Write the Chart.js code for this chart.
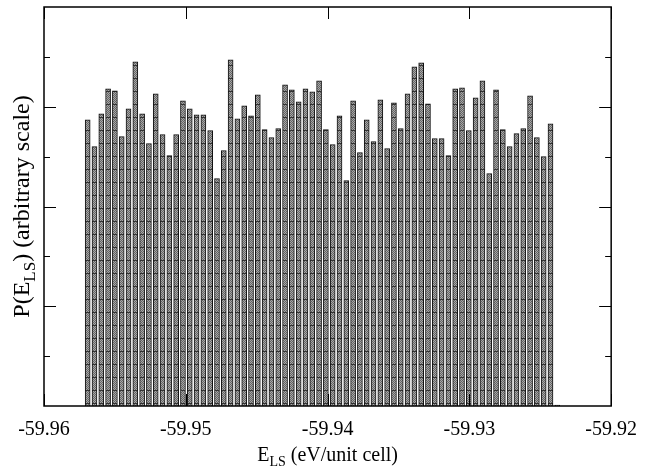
<!DOCTYPE html>
<html>
<head>
<meta charset="utf-8">
<script src="https://cdn.jsdelivr.net/npm/chart.js@4.4.0/dist/chart.umd.min.js"></script>
<style>
  html, body { margin: 0; padding: 0; background: #fff; }
  #wrap { width: 649px; height: 472px; }
</style>
</head>
<body>
<div id="wrap"><canvas id="myChart" width="649" height="472"></canvas></div>
<script>
// bin centres (eV/unit cell)
const binCenters = [
  -59.95692, -59.95644, -59.95596, -59.95548, -59.95500, -59.95452, -59.95404, -59.95356,
  -59.95308, -59.95260, -59.95212, -59.95164, -59.95116, -59.95068, -59.95020, -59.94972,
  -59.94924, -59.94876, -59.94828, -59.94780, -59.94732, -59.94684, -59.94636, -59.94588,
  -59.94540, -59.94492, -59.94444, -59.94396, -59.94348, -59.94300, -59.94252, -59.94204,
  -59.94156, -59.94108, -59.94060, -59.94012, -59.93964, -59.93916, -59.93868, -59.93820,
  -59.93772, -59.93724, -59.93676, -59.93628, -59.93580, -59.93532, -59.93484, -59.93436,
  -59.93388, -59.93340, -59.93292, -59.93244, -59.93196, -59.93148, -59.93100, -59.93052,
  -59.93004, -59.92956, -59.92908, -59.92860, -59.92812, -59.92764, -59.92716, -59.92668,
  -59.92620, -59.92572, -59.92524, -59.92476, -59.92428, -59.92380
];

// P(E_LS), arbitrary scale
const counts = [
  2.87, 2.60, 2.93, 3.18, 3.16, 2.70, 2.98, 3.45, 2.93, 2.63,
  3.13, 2.72, 2.51, 2.72, 3.06, 2.98, 2.92, 2.92, 2.76, 2.28,
  2.56, 3.47, 2.88, 3.01, 2.91, 3.12, 2.77, 2.69, 2.78, 3.22,
  3.17, 3.05, 3.18, 3.15, 3.26, 2.77, 2.62, 2.91, 2.26, 3.06,
  2.54, 2.87, 2.65, 3.07, 2.58, 3.04, 2.78, 3.13, 3.40, 3.44,
  3.03, 2.68, 2.68, 2.51, 3.18, 3.19, 2.76, 3.09, 3.26, 2.33,
  3.17, 2.77, 2.60, 2.73, 2.78, 3.11, 2.69, 2.50, 2.83, 0.01
];

const xMin = -59.96, xMax = -59.92, xStep = 0.01;
const yMax = 4;
const yMajor = [1, 2, 3];
const yMinor = [0.5, 1.5, 2.5, 3.5];

const ctx = document.getElementById('myChart').getContext('2d');

// checkered grey fill with a dark line every few pixels, like the printed hatching
function makePattern() {
  const c = document.createElement('canvas');
  c.width = 2; c.height = 13;
  const p = c.getContext('2d');
  for (let r = 0; r < 13; r++) {
    for (let k = 0; k < 2; k++) {
      if (r === 0) p.fillStyle = '#333';
      else p.fillStyle = ((r + k) % 2) ? '#646464' : '#a8a8a8';
      p.fillRect(k, r, 1, 1);
    }
  }
  return ctx.createPattern(c, 'repeat');
}

const SERIF = '"Liberation Serif", "DejaVu Serif", serif';

function drawSubText(c, x, y, parts, size) {
  // parts: [text, isSub], centred on x
  const big = size + 'px ' + SERIF, small = Math.round(size * 0.7) + 'px ' + SERIF;
  let w = 0;
  parts.forEach(([t, sub]) => { c.font = sub ? small : big; w += c.measureText(t).width; });
  let cx = x - w / 2;
  c.textAlign = 'left';
  c.textBaseline = 'alphabetic';
  parts.forEach(([t, sub]) => {
    c.font = sub ? small : big;
    c.fillText(t, cx, y + (sub ? size * 0.25 : 0));
    cx += c.measureText(t).width;
  });
}

const framePlugin = {
  id: 'frame',
  afterDatasetsDraw(chart) {
    const c = chart.ctx, a = chart.chartArea;
    const x = chart.scales.x, y = chart.scales.y;
    c.save();
    c.strokeStyle = '#000';
    c.lineWidth = 1.5;
    c.strokeRect(a.left, a.top, a.right - a.left, a.bottom - a.top);
    c.lineWidth = 1;
    c.beginPath();
    yMajor.forEach(v => {
      const py = Math.round(y.getPixelForValue(v)) + 0.5;
      c.moveTo(a.left, py); c.lineTo(a.left + 12, py);
      c.moveTo(a.right, py); c.lineTo(a.right - 12, py);
    });
    yMinor.forEach(v => {
      const py = Math.round(y.getPixelForValue(v)) + 0.5;
      c.moveTo(a.left, py); c.lineTo(a.left + 6, py);
      c.moveTo(a.right, py); c.lineTo(a.right - 6, py);
    });
    x.ticks.forEach(t => {
      const px = Math.round(x.getPixelForValue(t.value)) + 0.5;
      c.moveTo(px, a.bottom); c.lineTo(px, a.bottom - 12);
      c.moveTo(px, a.top); c.lineTo(px, a.top + 12);
    });
    c.stroke();
    c.fillStyle = '#000';
    // x title
    drawSubText(c, (a.left + a.right) / 2, 461, [['E', false], ['LS', true], [' (eV/unit cell)', false]], 20);
    // y title
    c.translate(29, (a.top + a.bottom) / 2);
    c.rotate(-Math.PI / 2);
    drawSubText(c, 0, 0, [['P(E', false], ['LS', true], [') (arbitrary scale)', false]], 24);
    c.restore();
  }
};

const points = binCenters.map((b, i) => ({ x: b, y: counts[i] }));

const myChart = new Chart(ctx, {
  type: 'bar',
  data: {
    datasets: [{
      data: points,
      backgroundColor: makePattern(),
      borderColor: '#111',
      borderWidth: 1,
      borderSkipped: 'bottom',
      barThickness: 5
    }]
  },
  options: {
    responsive: false,
    animation: false,
    layout: { padding: { top: 7, right: 32, left: 0, bottom: 0 } },
    plugins: { legend: { display: false }, tooltip: { enabled: false } },
    scales: {
      x: {
        type: 'linear',
        offset: false,
        min: xMin,
        max: xMax,
        grid: { display: false, drawTicks: false },
        border: { display: false },
        ticks: {
          stepSize: xStep,
          padding: 12,
          color: '#000',
          font: { family: SERIF, size: 20 },
          maxRotation: 0,
          callback: v => v.toFixed(2)
        },
        afterFit: s => { s.height = 66; }
      },
      y: {
        min: 0,
        max: yMax,
        grid: { display: false, drawTicks: false },
        border: { display: false },
        ticks: { display: false },
        afterFit: s => { s.width = 44; }
      }
    }
  },
  plugins: [framePlugin]
});
</script>
</body>
</html>
